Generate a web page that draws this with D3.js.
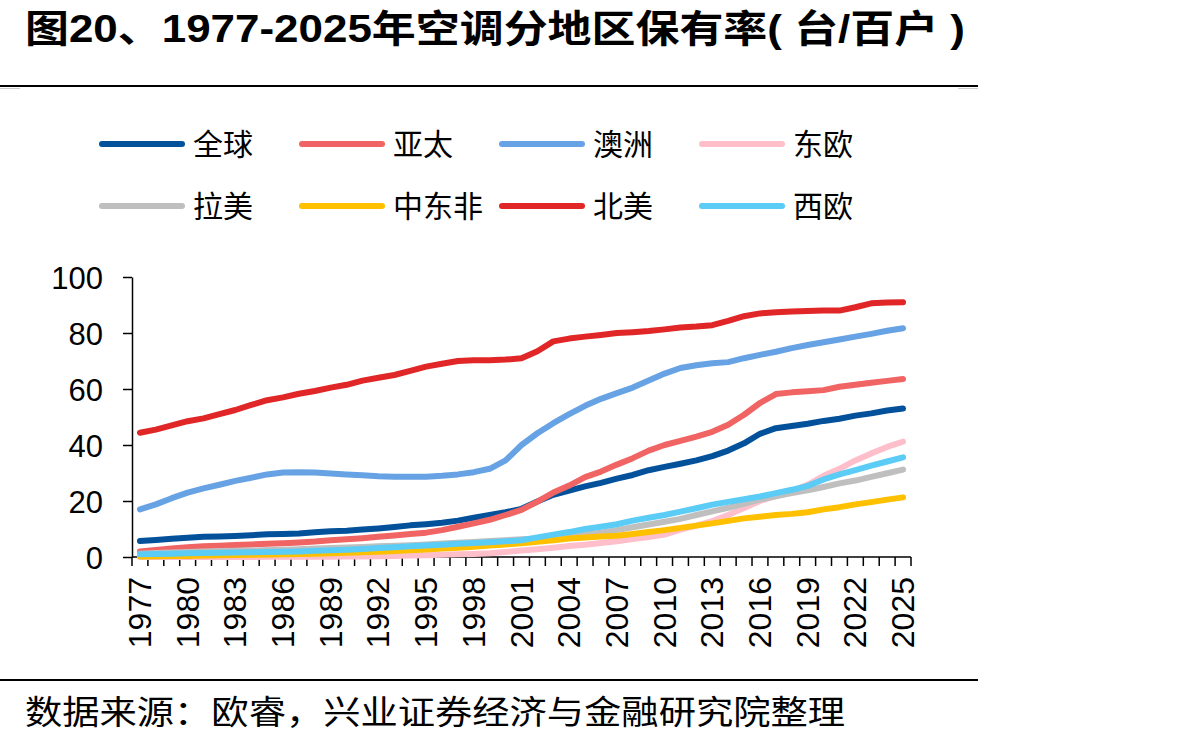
<!DOCTYPE html>
<html><head><meta charset="utf-8">
<script src="https://cdn.jsdelivr.net/npm/d3@7"></script>
<style>html,body{margin:0;padding:0;background:#fff;}svg{display:block;}</style>
</head><body>
<svg id="chart" width="1192" height="745"></svg>
<script>
const years = d3.range(1977, 2026);
const seriesNames = ["全球","亚太","澳洲","东欧","拉美","中东非","北美","西欧"];
const seriesColors = ["#03519B","#F06464","#67A3E4","#FFBFCA","#BFBFBF","#FFC000","#E02626","#5BCCF5"];
const yTicks = [0,20,40,60,80,100];

const global_ = [5.7,6.1,6.5,6.9,7.2,7.3,7.5,7.8,8.1,8.2,8.4,8.8,9.2,9.4,9.8,10.2,10.7,11.3,11.7,12.2,13,14,15,16,17.2,19.8,22.2,23.7,25.2,26.5,28,29.3,31,32.2,33.3,34.5,36,38,40.6,44,46,46.8,47.6,48.6,49.4,50.5,51.3,52.3,53];
const asiaPac = [2,2.5,3,3.5,3.8,4,4.3,4.5,4.7,4.9,5.2,5.5,6,6.3,6.7,7.2,7.7,8.2,8.7,9.6,10.8,12,13.3,15,16.8,19.8,23,25.5,28.5,30.5,33,35.3,38,40,41.5,43,44.7,47.2,50.8,55,58.2,58.8,59.2,59.6,60.8,61.5,62.2,62.9,63.6];
const australia = [17,18.8,21,23,24.5,25.8,27.2,28.3,29.5,30.2,30.3,30.2,29.8,29.5,29.2,28.8,28.7,28.7,28.7,29,29.5,30.3,31.5,34.5,40,44.2,47.8,51,54,56.5,58.5,60.5,63,65.5,67.5,68.5,69.2,69.6,71,72.2,73.3,74.6,75.7,76.7,77.7,78.7,79.7,80.8,81.7];
const eastEurope = [0,0,0,0,0,0,0,0,0.05,0.05,0.1,0.1,0.1,0.15,0.2,0.3,0.4,0.5,0.6,0.8,1,1.1,1.3,1.8,2.3,2.8,3.3,3.9,4.4,5,5.6,6.4,7.1,8,9.8,11.2,12.8,15,17.5,20,21.8,23.5,25.8,29,31.5,34.5,37,39.3,41.2];
const latAm = [1.2,1.4,1.6,1.8,2,2.1,2.2,2.3,2.5,2.6,2.8,3,3.2,3.4,3.6,3.8,4,4.2,4.5,4.8,5.1,5.4,5.7,6,6.3,6.6,7,7.5,8,8.7,9.6,10.6,11.6,12.6,13.6,15,16.3,17.6,19,20.5,21.7,22.8,23.8,25,26.3,27.3,28.6,29.9,31.2];
const meAfrica = [0.2,0.3,0.35,0.4,0.5,0.6,0.7,0.8,0.9,1,1.1,1.2,1.3,1.5,1.7,1.9,2.1,2.4,2.7,3,3.3,3.7,4.1,4.5,4.9,5.4,6,6.6,7,7.3,7.6,8.2,8.9,9.6,10.4,11.2,12,12.9,13.8,14.4,15,15.4,16,17,17.8,18.8,19.6,20.5,21.3];
const northAm = [44.4,45.5,47,48.5,49.5,51,52.5,54.3,56,57,58.3,59.3,60.5,61.5,63,64,65,66.5,68,69,70,70.3,70.3,70.5,71,73.5,77,78,78.7,79.3,80,80.3,80.7,81.3,82,82.3,82.8,84.3,86,87,87.4,87.7,87.9,88,88,89.2,90.6,90.9,91];
const westEurope = [1,1.1,1.2,1.3,1.4,1.5,1.6,1.7,1.8,1.9,2,2.2,2.4,2.6,2.9,3.2,3.5,3.8,4.1,4.4,4.7,5,5.3,5.6,6,7,8,8.9,10,10.8,11.7,13,14,15,16.2,17.4,18.7,19.7,20.6,21.6,22.8,24,25.4,27.7,29.5,31,32.6,34.1,35.6];
const seriesValues = [global_, asiaPac, australia, eastEurope, latAm, meAfrica, northAm, westEurope];

const svg = d3.select("#chart");
const latin = "'Liberation Sans', Arial, 'Noto Sans CJK SC', sans-serif";
const cjk = "'Liberation Sans', 'Noto Sans CJK SC', sans-serif";

// title
svg.append("text").attr("x",25).attr("y",42)
  .attr("font-family",cjk).attr("font-weight","bold").attr("font-size",38)
  .attr("textLength",940).attr("lengthAdjust","spacingAndGlyphs")
  .attr("fill","#000")
  .text("图20、1977-2025年空调分地区保有率( 台/百户 )");

// rules
svg.append("line").attr("x1",0).attr("x2",978).attr("y1",86).attr("y2",86).attr("stroke","#000").attr("stroke-width",2);
svg.append("line").attr("x1",0).attr("x2",20).attr("y1",88.5).attr("y2",88.5).attr("stroke","#ccc").attr("stroke-width",1);
svg.append("line").attr("x1",958).attr("x2",978).attr("y1",88.5).attr("y2",88.5).attr("stroke","#ccc").attr("stroke-width",1);
svg.append("line").attr("x1",0).attr("x2",978).attr("y1",680).attr("y2",680).attr("stroke","#000").attr("stroke-width",2);

// footer
svg.append("text").attr("x",25).attr("y",724)
  .attr("font-family",cjk).attr("font-size",33)
  .attr("textLength",820).attr("lengthAdjust","spacingAndGlyphs")
  .attr("fill","#000")
  .text("数据来源：欧睿，兴业证券经济与金融研究院整理");

// legend
const legCols = 4;
seriesNames.forEach((name,i)=>{
  const col = i % legCols, row = Math.floor(i/legCols);
  const lx = 102 + col*200, ly = 144 + row*62;
  svg.append("line").attr("x1",lx).attr("x2",lx+80).attr("y1",ly).attr("y2",ly)
    .attr("stroke",seriesColors[i]).attr("stroke-width",6).attr("stroke-linecap","round");
  svg.append("text").attr("x",lx+91).attr("y",ly).attr("dominant-baseline","central")
    .attr("font-family",cjk).attr("font-size",30).attr("fill","#000").text(name);
});

// scales
const x = d3.scaleBand().domain(years).range([132,911]).padding(0);
const y = d3.scaleLinear().domain([0,100]).range([557,277]);
const cx = d=> x(d)+x.bandwidth()/2;

// y axis
const yAxis = svg.append("g").attr("transform","translate(132,0)")
  .call(d3.axisLeft(y).tickValues(yTicks).tickSize(9).tickSizeOuter(0).tickPadding(20));
yAxis.select(".domain").attr("stroke","#000").attr("stroke-width",1.5);
yAxis.selectAll(".tick line").attr("stroke","#000").attr("stroke-width",1.5);
yAxis.selectAll(".tick text").attr("font-family",latin).attr("font-size",31).attr("fill","#000").attr("dy","0.36em");

// x axis
const xg = svg.append("g");
xg.append("line").attr("x1",x.range()[0]).attr("x2",x.range()[1]).attr("y1",y(0)).attr("y2",y(0))
  .attr("stroke","#000").attr("stroke-width",1.5);
const edges = years.map(d=>x(d)).concat([x.range()[1]]);
xg.selectAll("line.tk").data(edges).enter().append("line").attr("class","tk")
  .attr("x1",d=>d).attr("x2",d=>d).attr("y1",y(0)).attr("y2",y(0)+9)
  .attr("stroke","#000").attr("stroke-width",1.5);
xg.selectAll("text").data(years.filter((d,i)=>i%3===0)).enter().append("text")
  .attr("transform",d=>`translate(${cx(d)+11},${y(0)+20}) rotate(-90)`)
  .attr("text-anchor","end")
  .attr("font-family",latin).attr("font-size",32).attr("fill","#000")
  .text(d=>d);

// lines
const line = d3.line().x((d,i)=>cx(years[i])).y(d=>y(d));
seriesValues.forEach((vals,i)=>{
  svg.append("path").datum(vals).attr("d",line).attr("fill","none")
    .attr("stroke",seriesColors[i]).attr("stroke-width",6)
    .attr("stroke-linecap","round").attr("stroke-linejoin","round");
});
</script>
</body></html>
